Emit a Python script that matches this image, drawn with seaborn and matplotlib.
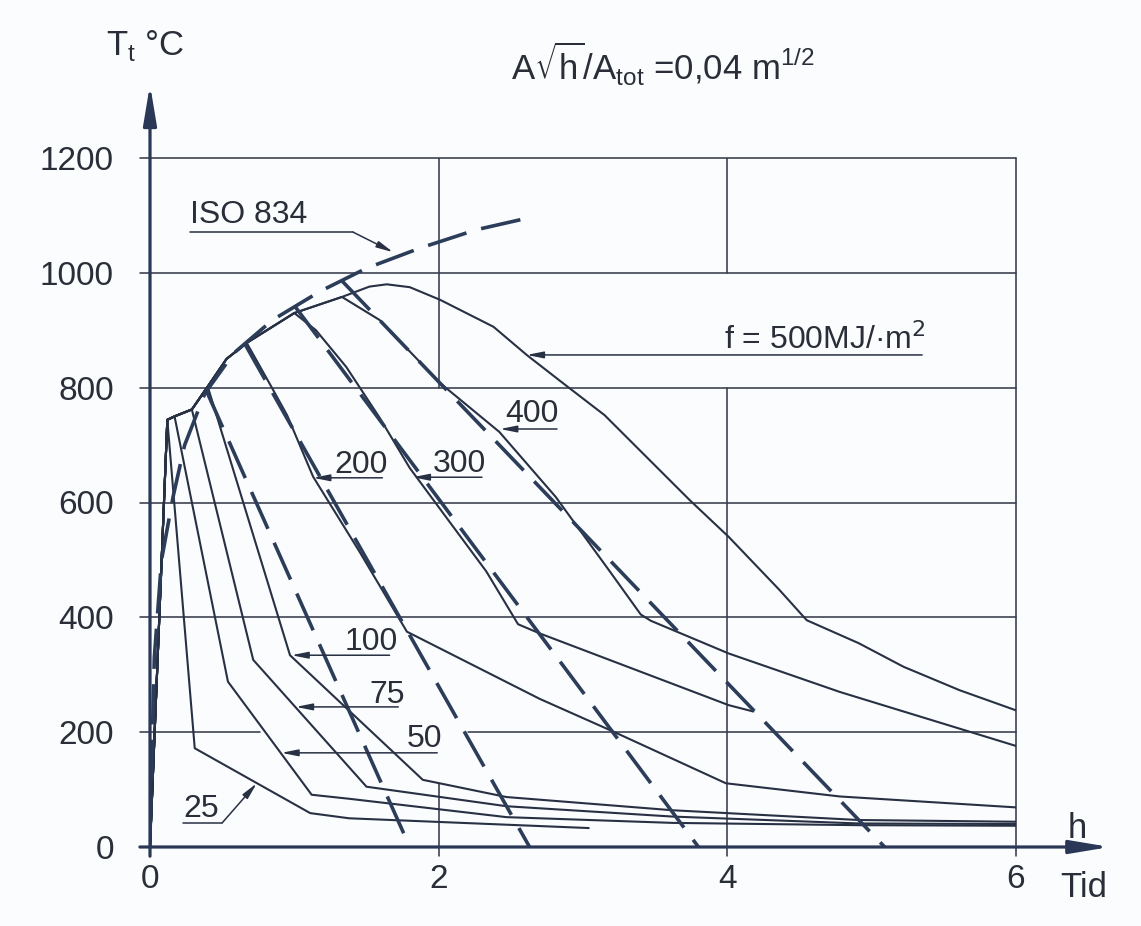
import matplotlib
matplotlib.use("Agg")
import matplotlib.pyplot as plt
import pandas as pd
import seaborn as sns

# ---------------- data (time in h, gas temperature in deg C) ----------------
# heating branch shared by every design-fire curve
heat_t = [0.0, 0.12, 0.17, 0.29, 0.40, 0.53, 0.67, 1.00, 1.33, 1.52, 1.64]
heat_T = [0, 744, 750, 762, 802, 850, 878, 930, 958, 976, 980]

fire_loads = [25, 50, 75, 100, 200, 300, 400, 500]   # MJ/m2
peak_index = [1, 2, 3, 4, 6, 7, 8, 10]                # end of heating on heat_t

cool_25_t = [0.31, 1.11, 1.38, 3.04]
cool_25_T = [172, 59, 50, 33]
cool_50_t = [0.54, 1.12, 1.38, 2.47, 3.62, 4.91, 6.0]
cool_50_T = [288, 91, 84, 52, 42, 38, 37]
cool_75_t = [0.715, 1.50, 2.47, 3.62, 4.91, 6.0]
cool_75_T = [326, 105, 71, 53, 41, 40]
cool_100_t = [0.97, 1.89, 2.47, 3.62, 4.91, 6.0]
cool_100_T = [334, 117, 87, 64, 47, 44]
cool_200_t = [0.84, 0.95, 1.13, 1.45, 1.78, 2.70, 3.21, 3.99, 4.78, 6.0]
cool_200_T = [802, 752, 645, 515, 375, 258, 201, 111, 88, 69]
cool_300_t = [1.15, 1.36, 1.59, 1.80, 2.05, 2.33, 2.55, 2.70, 4.01, 4.18]
cool_300_T = [900, 836, 748, 660, 575, 480, 388, 372, 247, 236]
cool_400_t = [1.59, 2.01, 2.42, 2.81, 3.18, 3.28, 3.40, 3.47, 4.01, 4.78, 6.0]
cool_400_T = [918, 808, 723, 610, 482, 447, 405, 394, 337, 270, 176]
cool_500_t = [1.80, 2.01, 2.38, 2.61, 2.84, 3.15, 3.74, 4.01, 4.36, 4.55,
              4.91, 5.22, 5.61, 6.0]
cool_500_T = [975, 953, 906, 857, 812, 752, 604, 540, 448, 395,
              355, 314, 273, 238]

# standard fire curve ISO 834
iso_t = [0.0, 0.03, 0.08, 0.16, 0.24, 0.38, 0.58, 0.85, 1.18, 1.50, 1.87, 2.26, 2.61]
iso_T = [20, 330, 500, 610, 700, 790, 860, 918, 968, 1008, 1043, 1075, 1095]

# linear decay branches leaving the ISO 834 curve
decay_start_t = [0.39, 0.66, 1.00, 1.33]
decay_start_T = [795, 875, 943, 986]
decay_end_t = [1.80, 2.63, 3.80, 5.09]

x_ticks = [0, 2, 4, 6]
y_ticks = [0, 200, 400, 600, 800, 1000, 1200]

cool_t = [cool_25_t, cool_50_t, cool_75_t, cool_100_t,
          cool_200_t, cool_300_t, cool_400_t, cool_500_t]
cool_T = [cool_25_T, cool_50_T, cool_75_T, cool_100_T,
          cool_200_T, cool_300_T, cool_400_T, cool_500_T]

rows = []
for f, pk, ct, cT in zip(fire_loads, peak_index, cool_t, cool_T):
    ts = heat_t[:pk + 1] + ct
    Ts = heat_T[:pk + 1] + cT
    rows += [{"f": f, "t": a, "T": b} for a, b in zip(ts, Ts)]
solid_df = pd.DataFrame(rows)

drows = [{"curve": "iso", "t": a, "T": b} for a, b in zip(iso_t, iso_T)]
for i, (t0, T0, t1) in enumerate(zip(decay_start_t, decay_start_T, decay_end_t)):
    drows += [{"curve": f"d{i}", "t": t0, "T": T0},
              {"curve": f"d{i}", "t": t1, "T": 0}]
dash_df = pd.DataFrame(drows)

# ---------------- style ----------------
sns.set_theme(style="white")
PLAIN = ["Liberation Sans", "DejaVu Sans"]
plt.rcParams["font.family"] = PLAIN
plt.rcParams["lines.scale_dashes"] = False

BG = "#fbfcfd"
INK = "#283044"
DASH = "#2c3d5a"
GRID = "#363c4a"
TXT = "#2a2e38"

W, H = 1141, 926
fig = plt.figure(figsize=(W / 100, H / 100), dpi=100, facecolor=BG)
ax = fig.add_axes([150 / W, (H - 847) / H, 866 / W, 689 / H])
ax.set_facecolor(BG)
ax.set_xlim(0, 6)
ax.set_ylim(0, 1200)
for s in ax.spines.values():
    s.set_visible(False)

# grid (interrupted where the drawing leaves room for labels)
glw = 1.15
for yv in y_ticks[1:]:
    if yv == 200:
        ax.plot([-0.07, 0.76], [yv, yv], color=GRID, lw=glw, clip_on=False)
        ax.plot([2.20, 6.0], [yv, yv], color=GRID, lw=glw, clip_on=False)
    else:
        ax.plot([-0.07, 6.0], [yv, yv], color=GRID, lw=glw, clip_on=False)
ax.plot([2, 2], [800, 1200], color=GRID, lw=glw)
ax.plot([2, 2], [-16, 110], color=GRID, lw=glw, clip_on=False)
ax.plot([4, 4], [1000, 1200], color=GRID, lw=glw)
ax.plot([4, 4], [-16, 800], color=GRID, lw=glw, clip_on=False)
ax.plot([6, 6], [-16, 1200], color=GRID, lw=glw, clip_on=False)

# curves
sns.lineplot(data=solid_df, x="t", y="T", units="f", estimator=None, sort=False,
             color=INK, lw=1.5, ax=ax, legend=False)
n_before = len(ax.lines)
sns.lineplot(data=dash_df, x="t", y="T", units="curve", estimator=None, sort=False,
             color=DASH, lw=2.6, ax=ax, legend=False)
for ln in ax.lines[n_before:]:
    ln.set_dashes([29, 11])
    ln.set_dash_capstyle("butt")

# axes with arrows
axis_arrow = dict(arrowstyle="-|>,head_length=1.2,head_width=0.2", mutation_scale=20,
                  lw=2.3, color="#2b3756", shrinkA=0, shrinkB=0)
ax.annotate("", xy=(6.65, 0), xytext=(-0.07, 0), arrowprops=axis_arrow,
            annotation_clip=False)
ax.annotate("", xy=(0, 1328), xytext=(0, -16), arrowprops=axis_arrow,
            annotation_clip=False)

# ticks
ax.set_xticks(x_ticks)
ax.set_xticklabels([str(v) for v in x_ticks])
ax.set_yticks(y_ticks)
ax.set_yticklabels([str(v) for v in y_ticks])
ax.tick_params(axis="x", length=0, pad=12, labelsize=24, labelcolor=TXT)
ax.tick_params(axis="y", length=0, pad=26, labelsize=24, labelcolor=TXT)
ax.set_xlabel("")
ax.set_ylabel("")

# curve labels with leaders
lab_arrow = dict(arrowstyle="-|>,head_length=0.9,head_width=0.18", mutation_scale=11,
                 lw=1.1, color=INK, shrinkA=0, shrinkB=0)
LFS = 23


def tag(text, tx, ty, line_from, line_to):
    ax.text(tx, ty, text, fontsize=LFS, color=TXT, ha="left", va="baseline")
    ax.annotate("", xy=line_to, xytext=line_from, arrowprops=lab_arrow,
                annotation_clip=False)


tag("400", 2.46, 740, (2.82, 728), (2.425, 728))
tag("300", 1.96, 653, (2.30, 644), (1.82, 644))
tag("200", 1.28, 651, (1.61, 643), (1.13, 643))
tag("100", 1.35, 343, (1.66, 334), (0.98, 334))
tag("75", 1.52, 251, (1.72, 244), (1.01, 244))
tag("50", 1.78, 174, (1.99, 164), (0.91, 164))

ax.text(0.23, 52, "25", fontsize=LFS, color=TXT, ha="left", va="baseline")
ax.plot([0.23, 0.50], [42, 42], color=INK, lw=1.1)
ax.annotate("", xy=(0.74, 111), xytext=(0.50, 42), arrowprops=lab_arrow)

ax.text(0.277, 1087, "ISO 834", fontsize=LFS, color=TXT, ha="left", va="baseline")
ax.plot([0.277, 1.406], [1071, 1071], color=INK, lw=1.1)
ax.annotate("", xy=(1.684, 1036), xytext=(1.406, 1071), arrowprops=lab_arrow)

ax.text(3.98, 867, "f = 500MJ/·m$^2$", fontsize=LFS, color=TXT,
        ha="left", va="baseline")
ax.annotate("", xy=(2.61, 857), xytext=(5.35, 857), arrowprops=lab_arrow)

# titles and axis names
fig.text(511 / W, 1 - 80 / H,
         r"A$\mathregular{\sqrt{h}}$/A$_\mathregular{tot}$ =0,04 m$^\mathregular{1/2}$",
         fontsize=25, color=TXT, ha="left", va="baseline")
fig.text(106 / W, 1 - 55 / H, r"T$_\mathregular{t}$ °C", fontsize=25, color=TXT,
         ha="left", va="baseline")
fig.text(1068 / W, 1 - 838 / H, "h", fontsize=25, color=TXT, ha="left", va="baseline")
fig.text(1060 / W, 1 - 897 / H, "Tid", fontsize=25, color=TXT, ha="left", va="baseline")

fig.savefig("out.png", dpi=100, facecolor=BG)
